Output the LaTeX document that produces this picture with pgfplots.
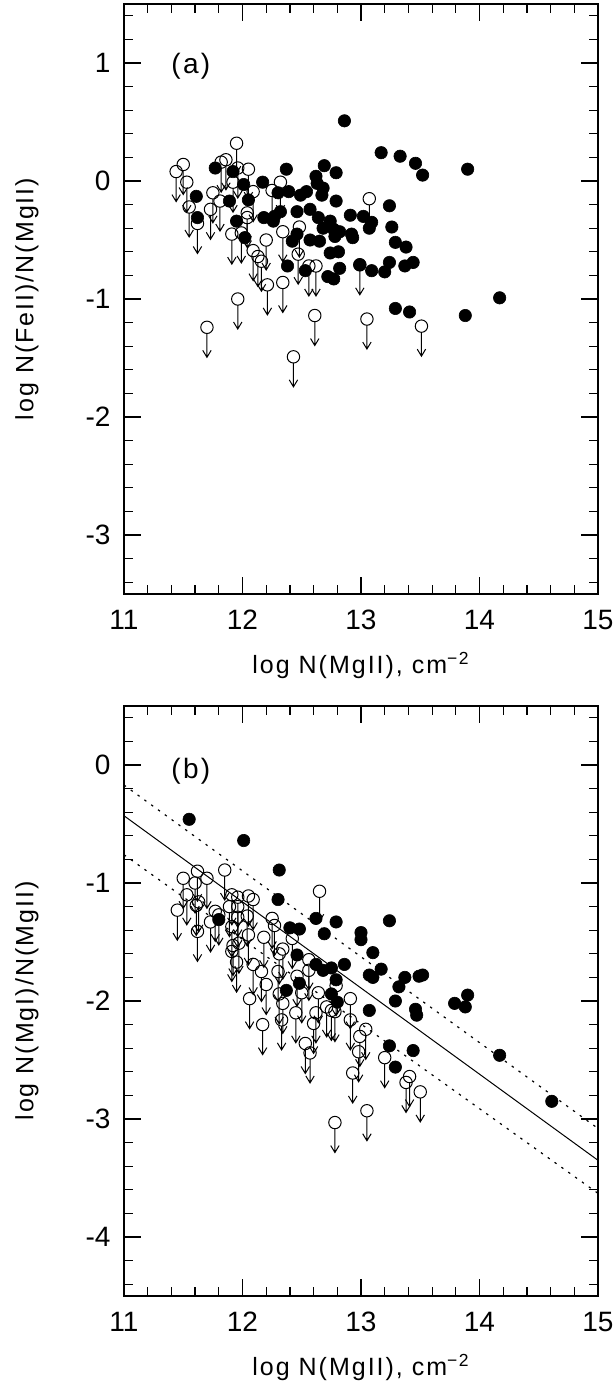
\documentclass[border=0pt]{standalone}
\usepackage{fontspec}
\setmainfont{Liberation Sans}
\newfontfamily\labfont[LetterSpace=8]{Liberation Sans}
\usepackage{pgfplots}
\usepackage{pgfplotstable}
\pgfplotsset{compat=1.18}

% open circle with a downward arrow = upper limit
\pgfdeclareplotmark{ulim}{%
  \pgfpathcircle{\pgfpointorigin}{\pgfplotmarksize}%
  \pgfusepathqstroke
  \pgfpathmoveto{\pgfpoint{0pt}{-\pgfplotmarksize}}%
  \pgfpathlineto{\pgfpoint{0pt}{-15pt}}%
  \pgfpathmoveto{\pgfpoint{-2.1pt}{-11.5pt}}%
  \pgfpathlineto{\pgfpoint{0pt}{-15pt}}%
  \pgfpathlineto{\pgfpoint{2.1pt}{-11.5pt}}%
  \pgfusepathqstroke
}

% panel (a): log N(FeII)/N(MgII)
\pgfplotstableread{
x y
12.86 0.51
13.17 0.24
13.33 0.21
13.46 0.15
13.52 0.05
13.90 0.10
11.77 0.11
11.92 0.08
12.01 -0.03
12.17 -0.01
12.37 0.10
12.69 0.13
12.79 0.07
12.62 0.04
12.63 -0.02
12.68 -0.06
12.30 -0.10
12.39 -0.09
12.49 -0.12
12.54 -0.09
12.67 -0.12
12.79 -0.17
12.05 -0.16
11.89 -0.17
11.61 -0.13
11.62 -0.31
12.18 -0.31
12.27 -0.30
12.32 -0.26
12.46 -0.26
12.57 -0.24
12.64 -0.31
12.74 -0.34
12.77 -0.41
12.91 -0.29
13.02 -0.30
13.09 -0.35
12.68 -0.40
12.82 -0.43
12.26 -0.34
12.46 -0.45
12.42 -0.51
12.57 -0.50
12.65 -0.51
12.92 -0.45
12.93 -0.48
12.78 -0.47
11.95 -0.34
12.02 -0.48
12.74 -0.61
12.81 -0.60
12.38 -0.72
12.53 -0.76
12.82 -0.74
12.72 -0.81
12.77 -0.83
12.99 -0.71
13.09 -0.76
13.24 -0.21
13.07 -0.40
13.26 -0.39
13.29 -0.52
13.38 -0.56
13.20 -0.77
13.24 -0.69
13.37 -0.72
13.44 -0.69
13.29 -1.08
13.41 -1.11
13.88 -1.14
14.17 -0.99
}\feDet

\pgfplotstableread{
x y
11.44 0.08
11.50 0.14
11.53 -0.01
11.55 -0.22
11.62 -0.36
11.73 -0.24
11.75 -0.10
11.81 -0.17
11.82 0.16
11.86 0.18
11.95 0.32
11.92 -0.01
11.96 0.11
12.05 0.10
11.91 -0.45
11.99 -0.44
12.04 -0.31
12.04 -0.27
12.09 -0.09
12.09 -0.59
12.13 -0.64
12.16 -0.68
12.21 -0.88
12.34 -0.86
12.20 -0.50
12.32 -0.01
12.25 -0.08
12.34 -0.43
12.47 -0.62
12.48 -0.39
12.56 -0.72
12.62 -0.72
11.96 -1.00
12.61 -1.14
11.70 -1.24
12.43 -1.49
13.07 -0.15
12.99 -0.71
13.05 -1.17
13.51 -1.23
}\feLim

% panel (b): log N(MgI)/N(MgII)
\pgfplotstableread{
x y
11.55 -0.46
12.01 -0.64
12.31 -0.89
12.30 -1.14
12.62 -1.30
12.79 -1.33
12.40 -1.38
12.48 -1.39
12.69 -1.43
11.80 -1.31
12.46 -1.61
12.62 -1.69
12.68 -1.74
12.75 -1.72
12.79 -1.82
12.48 -1.85
12.37 -1.91
12.75 -1.94
12.80 -2.01
13.24 -1.32
13.00 -1.42
13.00 -1.48
13.10 -1.59
12.86 -1.69
13.07 -1.78
13.10 -1.80
13.17 -1.73
13.37 -1.80
13.32 -1.88
13.49 -1.79
13.52 -1.78
13.29 -2.00
13.46 -2.07
13.47 -2.12
13.79 -2.02
13.88 -2.05
13.90 -1.95
13.07 -2.08
14.17 -2.46
13.24 -2.38
13.44 -2.42
13.29 -2.56
14.61 -2.85
}\mgDet

\pgfplotstableread{
x y
11.62 -0.90
11.50 -0.96
11.60 -1.00
11.70 -0.96
11.85 -0.89
11.53 -1.10
11.63 -1.16
11.61 -1.19
11.45 -1.23
11.73 -1.33
11.77 -1.24
11.80 -1.27
11.62 -1.41
11.91 -1.10
11.96 -1.12
12.05 -1.11
12.09 -1.14
11.89 -1.20
11.96 -1.20
12.04 -1.28
11.96 -1.29
11.91 -1.37
12.05 -1.44
11.97 -1.51
11.92 -1.53
11.91 -1.58
12.18 -1.46
12.25 -1.30
12.27 -1.36
12.65 -1.07
12.42 -1.47
12.34 -1.56
12.31 -1.60
12.30 -1.75
11.95 -1.67
12.09 -1.69
12.16 -1.75
12.20 -1.86
12.06 -1.98
12.17 -2.20
12.33 -2.16
12.53 -2.36
12.57 -2.44
12.60 -2.19
12.62 -2.10
12.56 -1.65
12.56 -1.74
12.46 -1.79
12.50 -1.93
12.45 -2.10
12.31 -1.94
12.34 -2.02
12.71 -2.05
12.75 -2.08
12.64 -1.93
12.91 -1.98
12.91 -2.16
13.04 -2.24
12.99 -2.30
12.98 -2.43
12.93 -2.61
13.20 -2.48
13.41 -2.64
13.38 -2.69
13.50 -2.77
12.79 -1.87
12.78 -2.09
12.78 -3.03
13.05 -2.93
}\mgLim

\pgfplotsset{
  panel/.style={
    width=237pt, height=295pt, scale only axis,
    xmin=11, xmax=15,
    xtick={11,12,13,14,15}, minor x tick num=4,
    ytick distance=1, minor y tick num=4,
    tick align=inside,
    major tick length=8.7pt, minor tick length=4.3pt,
    axis line style={line width=0.6pt},
    every tick/.style={black, line width=0.6pt},
    /pgf/number format/assume math mode=true,
    tick label style={font=\fontsize{14}{16}\selectfont},
    xticklabel style={yshift=-4.5pt},
    yticklabel style={xshift=-3.2pt},
    xlabel={log N(MgII), cm\textsuperscript{−2}},
    xlabel style={font=\labfont\fontsize{12.5}{14}\selectfont,
      at={(axis description cs:0.5,-0.134)}, anchor=base},
    ylabel style={font=\labfont\fontsize{12.5}{14}\selectfont,
      at={(axis description cs:-0.2046,0.5)}, anchor=center},
  },
  lim/.style={only marks, mark=ulim, mark size=3.1pt,
    mark options={draw=black, line width=0.5pt}},
  det/.style={only marks, mark=*, mark size=3.1pt,
    mark options={draw=black, fill=black, line width=0.3pt}},
}

\begin{document}
\begin{tikzpicture}
\useasboundingbox (-62pt,2pt) rectangle (245.5pt,-691.5pt);

\begin{axis}[panel, at={(0,0)}, anchor=north west,
    ymin=-3.5, ymax=1.5,
    ylabel={log N(FeII)/N(MgII)}]
  \addplot[lim] table {\feLim};
  \addplot[det] table {\feDet};
  \node[font=\labfont\fontsize{14}{16}\selectfont] at (axis description cs:0.141,0.895) {(a)};
\end{axis}

\begin{axis}[panel, at={(0,-351pt)}, anchor=north west,
    ymin=-4.5, ymax=0.5,
    ylabel={log N(MgI)/N(MgII)}]
  \addplot[black, line width=0.5pt] coordinates {(11,-0.43) (15,-3.35)};
  \addplot[black, line width=0.6pt, dash pattern=on 1.2pt off 3pt] coordinates {(11,-0.17) (15,-3.08)};
  \addplot[black, line width=0.6pt, dash pattern=on 1.2pt off 3pt] coordinates {(11,-0.76) (15,-3.63)};
  \addplot[lim] table {\mgLim};
  \addplot[det] table {\mgDet};
  \node[font=\labfont\fontsize{14}{16}\selectfont] at (axis description cs:0.141,0.89) {(b)};
\end{axis}
\end{tikzpicture}
\end{document}
